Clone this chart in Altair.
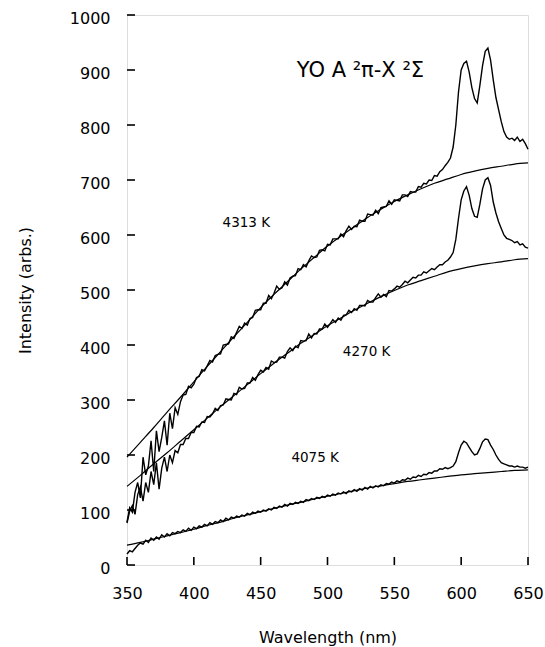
import altair as alt
import pandas as pd

# wavelength grid of the measured spectra (nm)
wl = list(range(350, 652, 2))

# 4313 K spectrum (upper)
hot = [78, 104, 96, 132, 150, 122, 196, 164, 180, 226,
       170, 244, 206, 232, 262, 218, 276, 248, 286, 274,
       297, 309, 310, 325, 322, 329, 341, 343, 355, 353,
       362, 372, 369, 381, 383, 384, 400, 401, 402, 415,
       412, 423, 434, 430, 440, 436, 448, 450, 463, 464,
       464, 476, 476, 490, 484, 494, 507, 501, 504, 515,
       509, 522, 525, 526, 539, 537, 546, 542, 553, 562,
       559, 560, 572, 573, 571, 583, 582, 593, 593, 593,
       602, 597, 608, 616, 610, 616, 615, 627, 625, 625,
       638, 637, 636, 645, 639, 650, 651, 652, 662, 656,
       664, 663, 662, 673, 673, 670, 679, 678, 678, 688,
       687, 694, 693, 700, 699, 708, 707, 715, 719, 726,
       732, 740, 760, 800, 860, 900, 912, 916, 896, 868,
       848, 840, 872, 908, 934, 940, 918, 882, 850, 828,
       806, 788, 778, 774, 776, 772, 778, 770, 774, 766,
       756]

# 4270 K spectrum (middle)
mid = [76, 98, 108, 92, 128, 142, 116, 150, 132, 170,
       146, 186, 138, 176, 196, 170, 200, 186, 208, 204,
       219, 219, 230, 230, 241, 241, 252, 251, 260, 259,
       270, 269, 275, 285, 281, 290, 291, 302, 301, 300,
       312, 310, 323, 320, 321, 331, 331, 341, 336, 346,
       354, 351, 359, 356, 371, 368, 369, 378, 378, 376,
       388, 395, 390, 398, 395, 408, 407, 408, 420, 413,
       421, 420, 429, 429, 438, 432, 439, 446, 441, 449,
       445, 454, 455, 463, 459, 466, 463, 472, 472, 471,
       481, 478, 478, 486, 493, 487, 492, 488, 499, 498,
       502, 507, 505, 510, 516, 513, 518, 523, 522, 527,
       527, 533, 531, 535, 539, 537, 542, 546, 546, 551,
       554, 560, 568, 592, 630, 664, 680, 688, 672, 648,
       634, 632, 656, 684, 700, 704, 690, 660, 640, 624,
       612, 600, 594, 592, 590, 586, 588, 582, 584, 578,
       576]

# 4075 K spectrum (lower)
cool = [20, 26, 24, 30, 36, 40, 38, 45, 41, 49,
        45, 51, 47, 55, 51, 57, 53, 59, 57, 61,
        59, 64, 61, 67, 63, 69, 66, 71, 69, 74,
        71, 77, 74, 79, 77, 82, 79, 85, 82, 87,
        85, 89, 87, 91, 89, 94, 91, 96, 94, 98,
        96, 100, 98, 102, 100, 105, 103, 107, 105, 110,
        107, 112, 110, 114, 112, 116, 114, 119, 117, 121,
        119, 123, 121, 125, 123, 127, 125, 129, 127, 131,
        129, 133, 130, 135, 133, 137, 134, 139, 136, 141,
        138, 143, 140, 144, 142, 146, 144, 148, 147, 151,
        149, 153, 151, 155, 154, 158, 156, 160, 159, 163,
        161, 165, 164, 168, 167, 171, 171, 175, 174, 177,
        175, 177, 180, 188, 204, 218, 225, 222, 214, 206,
        200, 202, 212, 224, 229, 228, 218, 210, 200, 192,
        186, 184, 182, 180, 180, 178, 180, 178, 178, 176,
        178]

# blackbody fits (every 10 nm)
fit_wl = list(range(350, 660, 10))
fit_hot = [196, 223, 250, 278, 305, 333, 361, 388, 415, 441, 468, 492, 515, 538, 559, 580,
           598, 615, 632, 647, 661, 673, 684, 694, 702, 710, 716, 721, 725, 729, 731]
fit_mid = [143, 163, 184, 204, 225, 246, 267, 288, 308, 328, 348, 367, 385, 403, 419, 435,
           449, 463, 476, 488, 499, 509, 517, 525, 533, 539, 544, 548, 551, 555, 557]
fit_cool = [36, 41, 47, 53, 59, 65, 72, 78, 85, 91, 97, 103, 109, 114, 120, 125,
            130, 135, 140, 144, 148, 152, 155, 158, 161, 164, 166, 168, 170, 172, 173]

# annotations
lab_text = ["4313 K", "4270 K", "4075 K"]
lab_x = [421.5, 511.5, 473]
lab_y = [622, 387, 195]
title_text = ["YO A  \u00b2\u03c0-X \u00b2\u03a3"]
title_x = [477]
title_y = [888]

x_ticks = [350, 400, 450, 500, 550, 600, 650]
y_ticks = [0, 100, 200, 300, 400, 500, 600, 700, 800, 900, 1000]

rows = []
for name, vals in [("4313", hot), ("4270", mid), ("4075", cool)]:
    assert len(vals) == len(wl), (name, len(vals))
    for a, b in zip(wl, vals):
        rows.append({"wl": a, "v": b, "s": name})
spec = pd.DataFrame(rows)

frows = []
for name, vals in [("4313", fit_hot), ("4270", fit_mid), ("4075", fit_cool)]:
    assert len(vals) == len(fit_wl), (name, len(vals))
    for a, b in zip(fit_wl, vals):
        frows.append({"wl": a, "v": b, "s": name})
fits = pd.DataFrame(frows)

labels = pd.DataFrame({"wl": lab_x, "v": lab_y, "t": lab_text})
title = pd.DataFrame({"wl": title_x, "v": title_y, "t": title_text})
xt = pd.DataFrame({"wl": x_ticks})
yt = pd.DataFrame({"v": y_ticks})

FONT = "DejaVu Sans"
W, H, TICK = 401, 550, 8
xs = alt.Scale(domain=[350, 650], nice=False, zero=False)
ysc = alt.Scale(domain=[0, 1000], nice=False)

x_enc = alt.X("wl:Q", scale=xs, axis=alt.Axis(
    values=x_ticks, title="Wavelength (nm)", ticks=False, domain=False,
    grid=False, labelFont=FONT, labelFontSize=16,
    labelColor="black", labelPadding=20, titleFont=FONT, titleFontSize=16,
    titleFontWeight="normal", titleColor="black", titlePadding=28, labelFlush=False))
y_enc = alt.Y("v:Q", scale=ysc, axis=alt.Axis(
    values=y_ticks, format="d", title="Intensity (arbs.)", ticks=False, domain=False,
    grid=False, labelFont=FONT, labelFontSize=16,
    labelColor="black", labelPadding=17, labelOffset=3, titleFont=FONT, titleFontSize=16,
    titleFontWeight="normal", titleColor="black", titlePadding=36, labelFlush=False))

spec_layer = alt.Chart(spec).mark_line(color="black", strokeWidth=1.4).encode(
    x=x_enc, y=y_enc, detail="s:N")
fit_layer = alt.Chart(fits).mark_line(color="black", strokeWidth=1.2, interpolate="monotone").encode(
    x="wl:Q", y="v:Q", detail="s:N")
lab_layer = alt.Chart(labels).mark_text(align="left", baseline="middle", font=FONT,
                                        fontSize=13.5, color="black").encode(
    x="wl:Q", y="v:Q", text="t:N")
title_layer = alt.Chart(title).mark_text(align="left", baseline="alphabetic", font=FONT,
                                         fontSize=21, color="black").encode(
    x="wl:Q", y="v:Q", text="t:N")
xtick_layer = alt.Chart(xt).mark_rule(color="black", strokeWidth=1.6).encode(
    x="wl:Q", y=alt.value(H - TICK), y2=alt.value(H))
ytick_layer = alt.Chart(yt).mark_rule(color="black", strokeWidth=1.6).encode(
    y="v:Q", x=alt.value(0), x2=alt.value(TICK))

chart = alt.layer(spec_layer, fit_layer, lab_layer, title_layer, xtick_layer, ytick_layer).properties(
    width=W, height=H,
    autosize=alt.AutoSizeParams(type="none"),
    padding={"left": 127, "top": 15, "right": 17, "bottom": 82},
).configure_view(stroke="black", strokeWidth=1.6).configure(background="white")

chart.save("out.html", embed_options={"renderer": "svg", "actions": False})
